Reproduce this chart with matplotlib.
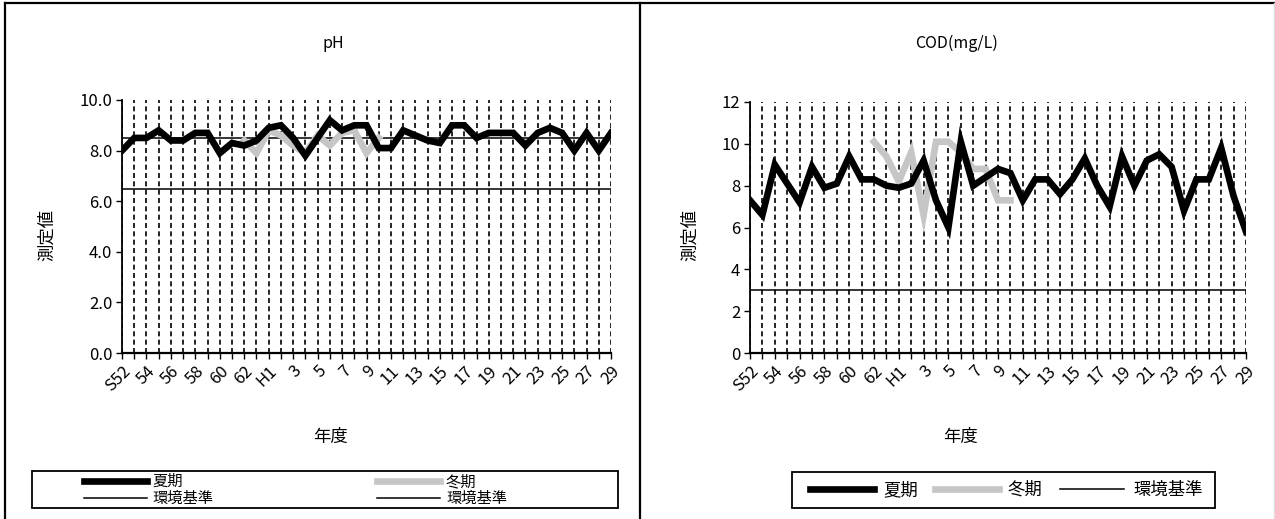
import numpy as np
import matplotlib
matplotlib.use('Agg')
import matplotlib.pyplot as plt
from matplotlib.lines import Line2D
from matplotlib.patches import Rectangle

plt.rcParams['font.family'] = ['Noto Sans CJK JP', 'DejaVu Sans']

W, H = 1275, 519
nan = np.nan

# 年度 S52..S63, H1..H29
years = ['S%d' % y for y in range(52, 64)] + ['H%d' % y for y in range(1, 30)]
tick_labels = [y if (i == 0 or y == 'H1') else y[1:] for i, y in enumerate(years)]

ph_summer = [8.0, 8.5, 8.5, 8.8, 8.4, 8.4, 8.7, 8.7, 7.9, 8.3, 8.2, 8.4, 8.9, 9.0,
             8.5, 7.8, 8.5, 9.2, 8.8, 9.0, 9.0, 8.1, 8.1, 8.8, 8.6, 8.4, 8.3, 9.0,
             9.0, 8.5, 8.7, 8.7, 8.7, 8.2, 8.7, 8.9, 8.7, 8.0, 8.7, 8.0, 8.7]
ph_winter = [nan] * 10 + [8.4, 7.9, 8.8, 8.6, 8.2, 7.9, 8.6, 8.2, 8.7, 8.8, 7.9, 8.5] + [nan] * 19
ph_std = [6.5, 8.5]

cod_summer = [7.3, 6.6, 9.0, 8.1, 7.2, 8.9, 7.9, 8.1, 9.4, 8.3, 8.3, 8.0, 7.9, 8.1,
              9.2, 7.3, 6.0, 10.1, 8.0, 8.4, 8.8, 8.6, 7.3, 8.3, 8.3, 7.6, 8.3, 9.3,
              8.0, 7.0, 9.4, 8.0, 9.2, 9.5, 8.9, 6.8, 8.3, 8.3, 9.8, 7.5, 5.8]
cod_winter = [nan] * 10 + [10.1, 9.4, 8.2, 9.6, 6.6, 10.1, 10.1, 9.6, 8.8, 8.8, 7.3, 7.3] + [nan] * 19
cod_std = [3.0]


def fx(x):
    return x / W


def fy(y):
    return 1 - y / H


fig = plt.figure(figsize=(W / 100, H / 100), dpi=100)

summer_kw = dict(color='black', lw=4.8, solid_joinstyle='miter')
winter_kw = dict(color='#c6c6c6', lw=4.8, solid_joinstyle='miter')
std_kw = dict(color='black', lw=1.1)
TICK_FS = 12


def setup_axes(ax, ymax, ystep, fmt):
    x = np.arange(len(years))
    ax.set_xlim(0, len(years) - 1)
    ax.set_ylim(0, ymax)
    ax.set_xticks(x)
    ax.set_xticklabels([t if i % 2 == 0 else '' for i, t in enumerate(tick_labels)],
                       rotation=45, ha='right', va='top', rotation_mode='anchor', fontsize=TICK_FS)
    ax.set_yticks(np.arange(0, ymax + 0.01, ystep))
    ax.set_yticklabels([fmt % v for v in np.arange(0, ymax + 0.01, ystep)], fontsize=TICK_FS)
    ax.tick_params(direction='out', length=4, width=1, color='black', pad=3)
    ax.spines['top'].set_visible(False)
    ax.spines['right'].set_visible(False)
    ax.spines['left'].set_linewidth(1.3)
    ax.spines['bottom'].set_linewidth(1.6)
    ax.grid(axis='x', color='black', linestyle=(0, (3, 2)), lw=1.2)
    ax.set_axisbelow(True)
    return x


# ---- pH ----
ax1 = fig.add_axes([fx(122), fy(353), fx(611) - fx(122), fy(100) - fy(353)])
x = setup_axes(ax1, 10, 2, '%.1f')
for v in ph_std:
    ax1.axhline(v, **std_kw)
ax1.plot(x, ph_winter, **winter_kw)
ax1.plot(x, ph_summer, **summer_kw)

# ---- COD ----
ax2 = fig.add_axes([fx(750), fy(353), fx(1246) - fx(750), fy(102) - fy(353)])
x = setup_axes(ax2, 12, 2, '%d')
for v in cod_std:
    ax2.axhline(v, **std_kw)
ax2.plot(x, cod_winter, **winter_kw)
ax2.plot(x, cod_summer, **summer_kw)

# titles and axis labels
fig.text(fx(333), fy(43), 'pH', ha='center', va='center', fontsize=11.5)
fig.text(fx(957), fy(43), 'COD(mg/L)', ha='center', va='center', fontsize=11.5)
fig.text(fx(47), fy(235), '測定値', ha='center', va='center', rotation=90, fontsize=12.5)
fig.text(fx(690), fy(235), '測定値', ha='center', va='center', rotation=90, fontsize=12.5)
fig.text(fx(330), fy(437), '年度', ha='center', va='center', fontsize=12.5)
fig.text(fx(960), fy(437), '年度', ha='center', va='center', fontsize=12.5)

# legends
h_sum = Line2D([], [], **summer_kw)
h_win = Line2D([], [], **winter_kw)
h_std = Line2D([], [], **std_kw)

fig.legend([h_sum, h_std, h_win, h_std], ['夏期', '環境基準', '冬期', '環境基準'],
           ncol=2, loc='center left', bbox_to_anchor=(fx(84), fy(490)),
           frameon=False, borderpad=0, borderaxespad=0, fontsize=11,
           handlelength=4.1, handletextpad=0.4, columnspacing=10.7, labelspacing=0)
fig.legend([h_sum, h_win, h_std], ['夏期', '冬期', '環境基準'],
           ncol=3, loc='center left', bbox_to_anchor=(fx(810), fy(490)),
           frameon=False, borderpad=0, borderaxespad=0, fontsize=12.5,
           handlelength=3.7, handletextpad=0.5, columnspacing=1.0)

fig.add_artist(Rectangle((fx(32), fy(508)), fx(618) - fx(32), fy(471) - fy(508),
                         transform=fig.transFigure, fill=False, ec='black', lw=1.3))
fig.add_artist(Rectangle((fx(792), fy(508)), fx(1215) - fx(792), fy(472) - fy(508),
                         transform=fig.transFigure, fill=False, ec='black', lw=1.3))

# panel borders
for xs, ys in [([fx(5), fx(1275)], [fy(3), fy(3)]),
               ([fx(5), fx(5)], [fy(3), 0]),
               ([fx(640), fx(640)], [fy(3), 0])]:
    fig.add_artist(Line2D(xs, ys, transform=fig.transFigure, color='black', lw=1.6))
fig.add_artist(Line2D([fx(1273.5), fx(1273.5)], [fy(3), 0], transform=fig.transFigure,
                      color='#dddddd', lw=1))

fig.savefig('out.png', dpi=100)
